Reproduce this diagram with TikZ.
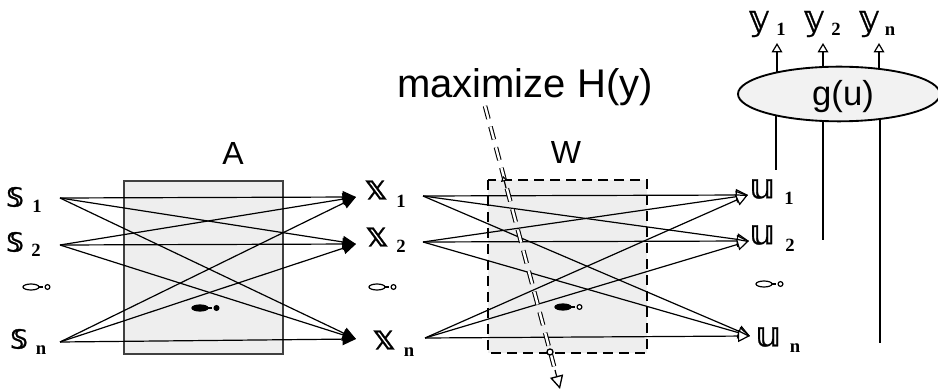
\documentclass[tikz,border=0pt]{standalone}
\usepackage{fontspec}
\setmainfont{Liberation Sans}
\newfontfamily\dsfont[BoldFont=DejaVu Sans, BoldFeatures={FakeBold=0.9}]{DejaVu Sans}
\newfontfamily\subfont{Liberation Serif}
\usetikzlibrary{arrows.meta,backgrounds,shapes.geometric}
\tikzset{
  lbl/.style={font=\dsfont\bfseries\fontsize{26}{26}\selectfont, inner sep=0pt},
  sublbl/.style={font=\subfont\bfseries\fontsize{14}{14}\selectfont, inner sep=0pt},
  title/.style={font=\fontsize{24}{24}\selectfont, inner sep=0pt},
  wire/.style={line width=0.9pt},
  blackhead/.style={wire, -{Triangle[length=10pt,width=9pt]}},
  openhead/.style={wire, -{Triangle[open,length=9pt,width=9pt,fill=white,line width=0.9pt]}},
  uphead/.style={wire, -{Triangle[open,length=7pt,width=8pt,fill=white,line width=0.9pt]}},
  boxA/.style={draw=black!75, line width=0.9pt, fill=gray!13},
  boxW/.style={draw=black, line width=1.9pt, dash pattern=on 7.5pt off 4.5pt},
  hdash/.style={line width=0.8pt, double=white, double distance=1.8pt, dash pattern=on 10pt off 6pt},
  pics/dsym/.style 2 args={code={
    \draw[line width=0.9pt, fill=#1] (-8,0) ellipse [x radius=8, y radius=3];
    \draw[line width=1.6pt] (0,0) -- (4,0);
    \draw[line width=0.9pt, fill=#2] (8.5,0) circle [radius=2.4];
  }}
}
\begin{document}
\begin{tikzpicture}[x=0.75pt,y=-0.75pt]
\useasboundingbox (0,0) rectangle (938,391);

% boxes
\fill[gray!13] (488,180) rectangle (647,353);
\draw[boxA] (124,181) rectangle (283,354);
\node[title] (A) at (233,153) {A};
\node[title] (W) at (566,152) {W};
\node[font=\fontsize{30}{30}\selectfont, inner sep=0pt, anchor=base] (max) at (525,98) {maximize H(y)};

% left labels
\node[lbl] (s1) at (15,197) {𝕤};  \node[sublbl] (s1i) at (37,206) {1};
\node[lbl] (s2) at (15,242) {𝕤};  \node[sublbl] (s2i) at (36,250) {2};
\node[lbl] (sn) at (19,339) {𝕤};  \node[sublbl] (sni) at (41,350) {n};
\coordinate (s1o) at (60,198);
\coordinate (s2o) at (60,245);
\coordinate (sno) at (60,342);

% x labels
\node[lbl] (x1) at (376,190) {𝕩};  \node[sublbl] (x1i) at (401,201) {1};
\node[lbl] (x2) at (377,237) {𝕩};  \node[sublbl] (x2i) at (401,246) {2};
\node[lbl] (xn) at (384,340) {𝕩};  \node[sublbl] (xni) at (409,352) {n};
\coordinate (x1t) at (356,197);
\coordinate (x2t) at (356,244);
\coordinate (xnt) at (356,339);
\coordinate (x1o) at (423,196);
\coordinate (x2o) at (423,242);
\coordinate (xno) at (425,338);

% u labels
\node[lbl] (u1) at (762,189) {𝕦};  \node[sublbl] (u1i) at (789,198) {1};
\node[lbl] (u2) at (762,235) {𝕦};  \node[sublbl] (u2i) at (790,245) {2};
\node[lbl] (un) at (768,337) {𝕦};  \node[sublbl] (uni) at (795,348) {n};
\coordinate (u1t) at (748,195);
\coordinate (u2t) at (749,241);
\coordinate (unt) at (750,336);

% dots symbols
\pic at (39,287) {dsym={white}{white}};
\pic at (385,287) {dsym={white}{white}};
\pic at (772,284) {dsym={white}{white}};
\pic at (208,308) {dsym={black}{black}};
\pic at (571,307) {dsym={black}{white}};

% mixing A
\foreach \s in {s1o,s2o,sno}
  \foreach \t in {x1t,x2t,xnt}
    \draw[blackhead] (\s) -- (\t);

% unmixing W
\foreach \s in {x1o,x2o,xno}
  \foreach \t in {u1t,u2t,unt}
    \draw[openhead] (\s) -- (\t);

\draw[boxW] (488,180) rectangle (647,353);

% g(u) ellipse
\node[ellipse, draw, line width=1.4pt, fill=gray!10, minimum width=151.5pt, minimum height=41pt,
      inner sep=0pt] (g) at (839,94) {};
\node[font=\fontsize{26}{26}\selectfont, inner sep=0pt] (gt) at (843,97) {g(u)};
\coordinate (v1) at (776,170);
\coordinate (v2) at (823,240);
\coordinate (v3) at (880,343);
\coordinate (y1a) at (777,43);
\coordinate (y2a) at (823,43);
\coordinate (yna) at (879,43);
\begin{scope}[on background layer]
  \draw[wire] (v1) -- (v1 |- g.center);
  \draw[wire] (v2) -- (v2 |- g.center);
  \draw[wire] (v3) -- (v3 |- g.center);
  \draw[uphead] (y1a |- g.center) -- (y1a);
  \draw[uphead] (y2a |- g.center) -- (y2a);
  \draw[uphead] (yna |- g.center) -- (yna);
\end{scope}

% y labels
\node[lbl] (y1) at (759,24) {𝕪};  \node[sublbl] (y1i) at (781,29) {1};
\node[lbl] (y2) at (814,24) {𝕪};  \node[sublbl] (y2i) at (836,29) {2};
\node[lbl] (yn) at (869,24) {𝕪};  \node[sublbl] (yni) at (890,31) {n};

% maximize H(y) dashed arrow
\coordinate (mtop) at (485,106);
\coordinate (mbot) at (555,370);
\coordinate (mtip) at (560,389);
\draw[hdash] (mtop) -- (mbot);
\draw[wire, -{Triangle[open,length=10pt,width=10pt,fill=white,line width=1pt]}] (mbot) -- (mtip);
\coordinate (mup1) at (506,188);
\coordinate (mup2) at (503,176);
\draw[wire, -{Triangle[open,length=4pt,width=5pt,fill=white,line width=0.8pt]}] (mup1) -- (mup2);
\coordinate (mcirc) at (550,352);
\draw[line width=1pt, fill=white] (mcirc) circle [radius=3];
\end{tikzpicture}
\end{document}
